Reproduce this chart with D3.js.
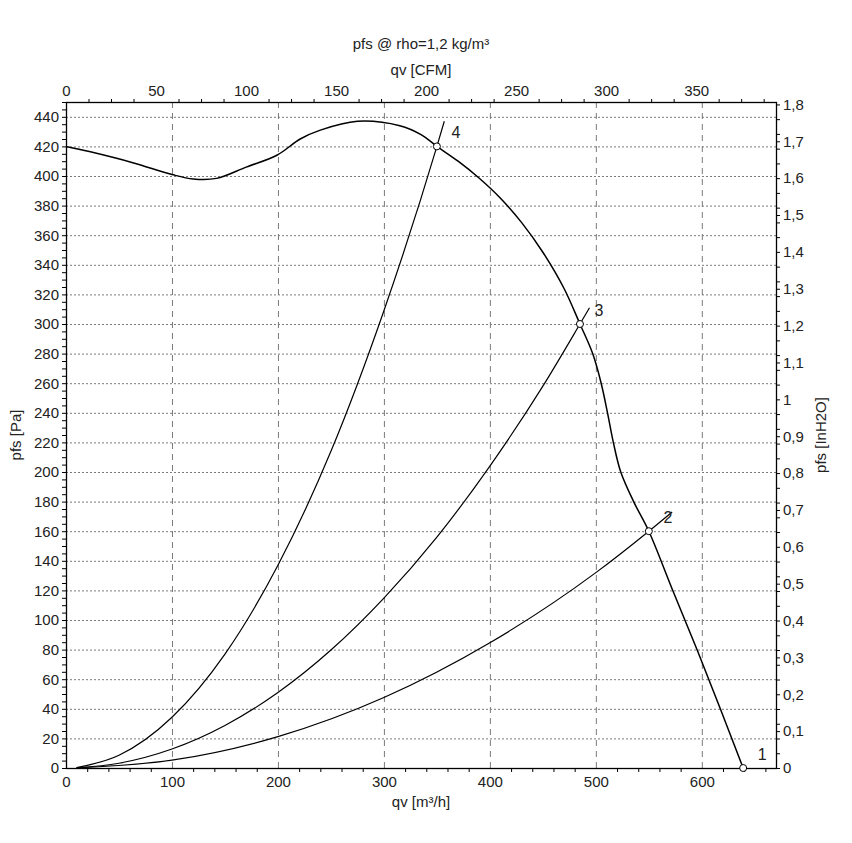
<!DOCTYPE html>
<html>
<head>
<meta charset="utf-8">
<script src="https://cdn.jsdelivr.net/npm/d3@7"></script>
<style>
  html, body { margin: 0; padding: 0; background: #fff; }
  svg text { font-family: "Liberation Sans", Arial, sans-serif; fill: #222; }
</style>
</head>
<body>
<svg id="chart" width="852" height="843"></svg>
<script>
// ---------- data ----------
const qvTicks = [0, 100, 200, 300, 400, 500, 600];
const paTicks = [0, 20, 40, 60, 80, 100, 120, 140, 160, 180, 200, 220, 240, 260, 280, 300, 320, 340, 360, 380, 400, 420, 440];
const cfmTicks = [0, 50, 100, 150, 200, 250, 300, 350];
const inh2oTicks = [0, 0.1, 0.2, 0.3, 0.4, 0.5, 0.6, 0.7, 0.8, 0.9, 1, 1.1, 1.2, 1.3, 1.4, 1.5, 1.6, 1.7, 1.8];

// fan curve (qv m³/h, pfs Pa)
const fanQv = [0, 22, 63, 100, 120, 142, 170, 199, 221, 240, 275, 315, 335, 350, 370, 390, 410, 430, 450, 470, 485, 497, 505, 511, 516.5, 523.5, 536, 550, 572, 596, 618, 639];
const fanPa = [420, 416.5, 409, 401, 398, 398.4, 406, 414, 425, 431, 437, 434, 428, 420, 410, 398.5, 385, 368.5, 348.5, 324, 300, 280, 260, 240, 220, 200, 179.5, 160, 121, 79, 39, 0];

// system curves
const sys2Qv = [10, 100, 200, 300, 400, 500, 550, 572];
const sys2Pa = [0.05, 5.3, 21.2, 47.6, 84.6, 132, 160, 173];
const sys3Qv = [10, 50, 100, 150, 200, 250, 300, 350, 400, 450, 485, 494];
const sys3Pa = [0.1, 3.2, 12.8, 28.7, 51, 79.7, 114.8, 156, 204, 258, 300, 311];
const sys4Qv = [10, 50, 100, 150, 200, 250, 300, 350, 357];
const sys4Pa = [0.3, 8.6, 34.3, 77, 137, 214, 309, 420, 437];

// operating points
const opQv = [639, 550, 485, 350];
const opPa = [0, 160, 300, 420];
const opLabels = ["1", "2", "3", "4"];

const titleText = "pfs @ rho=1,2 kg/m³";
const CFM_TO_M3H = 1.699;
const INH2O_TO_PA = 249.09;

// ---------- layout ----------
const svg = d3.select("#chart");
const W = 852, H = 843;
const m = { left: 66, top: 102, right: 76, bottom: 75 };
const x0 = m.left, x1 = W - m.right, y0 = H - m.bottom, y1 = m.top;

const x = d3.scaleLinear().domain([0, 670]).range([x0, x1]);
const y = d3.scaleLinear().domain([0, 450]).range([y0, y1]);
const xCfm = d3.scaleLinear().domain([0, 670 / CFM_TO_M3H]).range([x0, x1]);
const yIn = d3.scaleLinear().domain([0, 450 / INH2O_TO_PA]).range([y0, y1]);

const fmtComma = d => String(+d.toFixed(2)).replace(".", ",");

// ---------- grid ----------
const grid = svg.append("g");
grid.selectAll("line.h").data(paTicks.filter(d => d > 0)).join("line")
  .attr("x1", x0).attr("x2", x1)
  .attr("y1", d => y(d) + 0.5).attr("y2", d => y(d) + 0.5)
  .attr("stroke", "#7a7a7a").attr("stroke-width", 1).attr("stroke-dasharray", "2,2");
grid.selectAll("line.v").data(qvTicks.filter(d => d > 0)).join("line")
  .attr("x1", d => x(d) + 0.5).attr("x2", d => x(d) + 0.5)
  .attr("y1", y0).attr("y2", y1)
  .attr("stroke", "#7a7a7a").attr("stroke-width", 1).attr("stroke-dasharray", "6,5");

// ---------- axes ----------
const fs = 15;
svg.append("g").attr("transform", `translate(0,${y0})`)
  .call(d3.axisBottom(x).tickValues(qvTicks).tickSize(0).tickPadding(8).tickFormat(d3.format("d")));
const minorQv = d3.range(0, 671, 20).filter(d => d % 100 !== 0);
svg.append("g").attr("transform", `translate(0,${y0})`)
  .call(d3.axisBottom(x).tickValues(minorQv).tickSize(4).tickFormat(""));
svg.append("g").attr("transform", `translate(0,${y1})`)
  .call(d3.axisTop(xCfm).tickValues(cfmTicks).tickSize(0).tickPadding(6).tickFormat(d3.format("d")));
const minorCfm = d3.range(0, 395, 12.5).filter(d => d % 50 !== 0);
svg.append("g").attr("transform", `translate(0,${y1})`)
  .call(d3.axisTop(xCfm).tickValues(minorCfm).tickSize(3).tickFormat(""));
svg.append("g").attr("transform", `translate(${x0},0)`)
  .call(d3.axisLeft(y).tickValues(paTicks).tickSize(4).tickPadding(3).tickFormat(d3.format("d")));
const minorPa = d3.range(0, 451, 5).filter(d => d % 20 !== 0);
svg.append("g").attr("transform", `translate(${x0},0)`)
  .call(d3.axisLeft(y).tickValues(minorPa).tickSize(4).tickFormat(""));
svg.append("g").attr("transform", `translate(${x1},0)`)
  .call(d3.axisRight(yIn).tickValues(inh2oTicks).tickSize(4).tickPadding(3).tickFormat(fmtComma));
const minorIn = d3.range(0, 91, 2).map(d => d / 50).filter(d => Math.round(d * 50) % 5 !== 0);
svg.append("g").attr("transform", `translate(${x1},0)`)
  .call(d3.axisRight(yIn).tickValues(minorIn).tickSize(4).tickFormat(""));

svg.selectAll(".domain").remove();
svg.selectAll(".tick line").attr("stroke", "#000");
svg.selectAll(".tick text").attr("font-size", fs).attr("fill", "#222")
  .style("font-family", '"Liberation Sans", Arial, sans-serif');

// frame
svg.append("rect").attr("x", x0 + 0.5).attr("y", y1 + 0.5)
  .attr("width", x1 - x0).attr("height", y0 - y1)
  .attr("fill", "none").attr("stroke", "#000").attr("stroke-width", 1.3);

// ---------- titles ----------
svg.append("text").attr("x", 421).attr("y", 49).attr("text-anchor", "middle").attr("font-size", fs).text(titleText);
svg.append("text").attr("x", 421).attr("y", 75).attr("text-anchor", "middle").attr("font-size", fs).text("qv [CFM]");
svg.append("text").attr("x", 421).attr("y", 807).attr("text-anchor", "middle").attr("font-size", fs).text("qv [m³/h]");
svg.append("text").attr("transform", `translate(21,${(y0 + y1) / 2}) rotate(-90)`)
  .attr("text-anchor", "middle").attr("font-size", fs).text("pfs [Pa]");
svg.append("text").attr("transform", `translate(826,${(y0 + y1) / 2}) rotate(-90)`)
  .attr("text-anchor", "middle").attr("font-size", fs).text("pfs [InH2O]");

// ---------- curves ----------
const zip = (a, b) => a.map((v, i) => [v, b[i]]);
const sysLine = d3.line().x(d => x(d[0])).y(d => y(d[1])).curve(d3.curveMonotoneX);
const fanLine = d3.line().x(d => x(d[0])).y(d => y(d[1])).curve(d3.curveCatmullRom.alpha(0.5));

const curves = [zip(sys2Qv, sys2Pa), zip(sys3Qv, sys3Pa), zip(sys4Qv, sys4Pa)];
svg.append("g").selectAll("path").data(curves).join("path")
  .attr("d", sysLine).attr("fill", "none").attr("stroke", "#000").attr("stroke-width", 1.2);

svg.append("path").datum(zip(fanQv, fanPa))
  .attr("d", fanLine).attr("fill", "none").attr("stroke", "#000").attr("stroke-width", 1.5);

// ---------- operating points ----------
const ops = opQv.map((q, i) => ({ q, p: opPa[i], l: opLabels[i] }));
svg.append("g").selectAll("circle").data(ops).join("circle")
  .attr("cx", d => x(d.q)).attr("cy", d => y(d.p)).attr("r", 3.5)
  .attr("fill", "#fff").attr("stroke", "#000").attr("stroke-width", 1);
svg.append("g").selectAll("text").data(ops).join("text")
  .attr("x", d => x(d.q) + 19).attr("y", d => y(d.p) - 8)
  .attr("text-anchor", "middle").attr("font-size", 16).text(d => d.l);
</script>
</body>
</html>
